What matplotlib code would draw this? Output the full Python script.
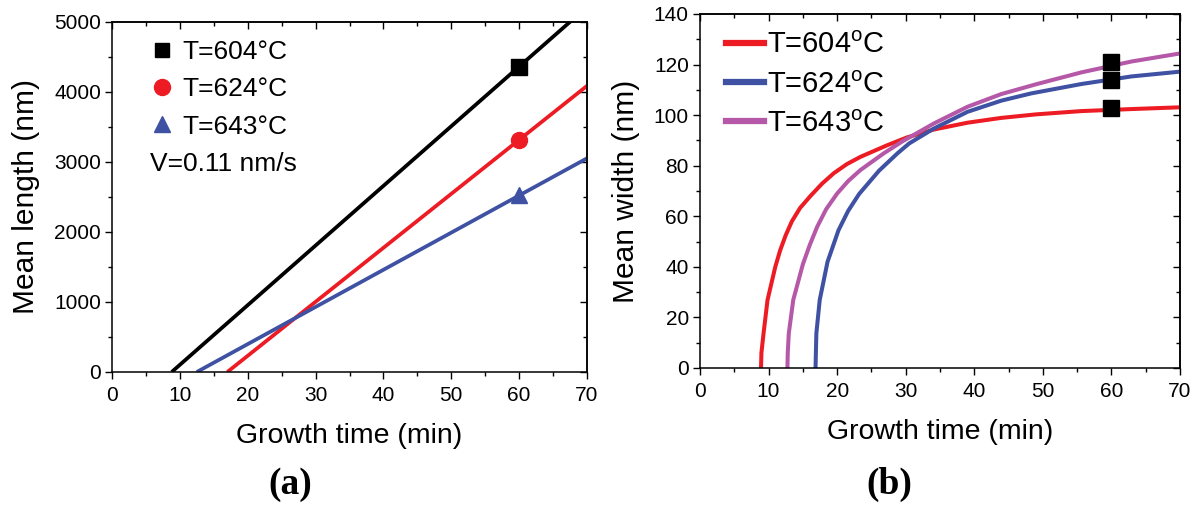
import numpy as np
import matplotlib
matplotlib.use("Agg")
import matplotlib.pyplot as plt
from matplotlib.ticker import MultipleLocator
from matplotlib.lines import Line2D

plt.rcParams['font.family'] = ['Liberation Sans', 'DejaVu Sans']

# ---- data -------------------------------------------------------------
temps = ["604", "624", "643"]

# (a) mean length: linear growth after an onset time, measured point at 60 min
onset_min = [8.8, 17.0, 12.5]
length_at_60 = [4360, 3314, 2520]
t_meas = 60

# (b) mean width curves
t_604 = [8.9, 8.96, 9.27, 9.85, 10.98, 11.7, 12.5, 13.4, 14.6, 16.1, 17.8,
         19.5, 21.4, 23.4, 27.3, 30.2, 34.1, 39.0, 43.9, 49.0, 55.6, 62.9, 70.0]
w_604 = [0, 6, 13.7, 26.9, 40.0, 46.6, 52.5, 58.0, 63.3, 68.0, 72.9,
         77.0, 80.6, 83.5, 88.1, 91.2, 94.3, 97.0, 98.9, 100.3, 101.6, 102.4, 103.1]

t_624 = [16.85, 16.9, 16.97, 17.46, 18.6, 20.2, 21.6, 23.2, 26.1, 28.8,
         30.5, 34.1, 39.0, 43.9, 48.3, 55.6, 62.9, 70.0]
w_624 = [0, 6, 13.7, 26.9, 42.0, 54.5, 62.1, 68.8, 78.0, 84.9,
         88.8, 94.7, 101.3, 105.7, 108.6, 112.3, 115.3, 117.2]

t_643 = [12.75, 12.8, 12.95, 13.6, 15.0, 16.0, 17.1, 18.4, 20.0, 21.6, 23.4,
         26.8, 29.5, 34.1, 39.0, 43.9, 49.0, 55.6, 62.9, 70.0]
w_643 = [0, 6, 13.7, 26.9, 41.0, 48.6, 55.9, 62.8, 69.0, 73.9, 78.3,
         84.9, 89.6, 96.7, 103.3, 108.3, 112.2, 116.9, 121.2, 124.4]

width_at_60 = [103, 114, 121]

# ---- styling ------------------------------------------------------------
RED = '#ED1C24'
BLUE = '#3F51A3'
MAGENTA = '#B558A8'

fig = plt.figure(figsize=(11.99, 5.05), dpi=100)
ax1 = fig.add_axes([0.0934, 0.2634, 0.3962, 0.6936])
ax2 = fig.add_axes([0.5838, 0.2713, 0.4004, 0.7010])


def style_axes(ax, ymaj, ymin):
    ax.xaxis.set_major_locator(MultipleLocator(10))
    ax.xaxis.set_minor_locator(MultipleLocator(5))
    ax.yaxis.set_major_locator(MultipleLocator(ymaj))
    ax.yaxis.set_minor_locator(MultipleLocator(ymin))
    for s in ax.spines.values():
        s.set_linewidth(1.1)
    ax.tick_params(which='both', direction='out', top=False, right=False,
                   labelsize=15, width=1.0)
    ax.tick_params(axis='x', pad=5)
    ax.tick_params(axis='y', pad=3)
    ax.tick_params(which='major', length=5)
    ax.tick_params(which='minor', length=3)
    # mirrored inward ticks on top/right
    sec_x = ax.secondary_xaxis('top')
    sec_y = ax.secondary_yaxis('right')
    sec_x.xaxis.set_major_locator(MultipleLocator(10))
    sec_x.xaxis.set_minor_locator(MultipleLocator(5))
    sec_y.yaxis.set_major_locator(MultipleLocator(ymaj))
    sec_y.yaxis.set_minor_locator(MultipleLocator(ymin))
    for sec in (sec_x, sec_y):
        sec.tick_params(which='both', direction='in', labelleft=False,
                        labelright=False, labeltop=False, labelbottom=False,
                        width=1.0)
        sec.tick_params(which='major', length=5)
        sec.tick_params(which='minor', length=3)
        for s in sec.spines.values():
            s.set_linewidth(1.1)


# ---- (a) -----------------------------------------------------------------
colors_a = ['black', RED, BLUE]
markers_a = ['s', 'o', '^']
legend_ms = [9.5, 11.5, 12]
handles = []
for t0, L60, c, m, lms, T in zip(onset_min, length_at_60, colors_a,
                                 markers_a, legend_ms, temps):
    rate = L60 / (t_meas - t0)
    ts = np.array([t0, 70.0])
    ax1.plot(ts, rate * (ts - t0), color=c, lw=2.7, solid_capstyle='butt', zorder=2)
    ax1.plot([t_meas], [L60], marker=m, color=c, ms=11.5, ls='none', zorder=3)
    handles.append(Line2D([], [], marker=m, color=c, ls='none', ms=lms,
                          label=f"T={T}°C"))

ax1.set_xlim(0, 70)
ax1.set_ylim(0, 5000)
style_axes(ax1, 1000, 500)
ax1.set_xlabel("Growth time (min)", fontsize=20.5, labelpad=13)
ax1.set_ylabel("Mean length (nm)", fontsize=21.5, labelpad=10)
ax1.legend(handles=handles, loc='upper left', frameon=False,
           fontsize=19, handlelength=0.8, handletextpad=0.35,
           labelspacing=0.5, borderaxespad=0.3,
           bbox_to_anchor=(0.045, 1.0))
ax1.text(0.08, 0.595, "V=0.11 nm/s", transform=ax1.transAxes, fontsize=19,
         ha='left', va='center')

# ---- (b) -----------------------------------------------------------------
curves = [(t_604, w_604, RED), (t_624, w_624, BLUE), (t_643, w_643, MAGENTA)]
handles_b = []
for (ts, ws, c), T in zip(curves, temps):
    ax2.plot(ts, ws, color=c, lw=2.9, solid_joinstyle='round', zorder=2)
    handles_b.append(Line2D([], [], color=c, lw=4.5,
                            label=f"T={T}$^\\mathregular{{o}}$C"))
ax2.plot([t_meas] * len(width_at_60), width_at_60, 's', color='black',
         ms=11, ls='none', zorder=3)

ax2.set_xlim(0, 70)
ax2.set_ylim(0, 140)
style_axes(ax2, 20, 10)
ax2.set_xlabel("Growth time (min)", fontsize=20.5, labelpad=13)
ax2.set_ylabel("Mean width (nm)", fontsize=21.5, labelpad=10)
ax2.legend(handles=handles_b, loc='upper left', frameon=False, fontsize=21,
           handlelength=1.3, handletextpad=0.1, labelspacing=0.38,
           borderaxespad=0.2, bbox_to_anchor=(0.018, 1.0))

# panel tags
fig.text(0.242, 0.04, "(a)", fontsize=27, fontweight='bold',
         family='Liberation Serif', ha='center', va='center')
fig.text(0.742, 0.04, "(b)", fontsize=27, fontweight='bold',
         family='Liberation Serif', ha='center', va='center')

fig.savefig("out.png", dpi=100)
